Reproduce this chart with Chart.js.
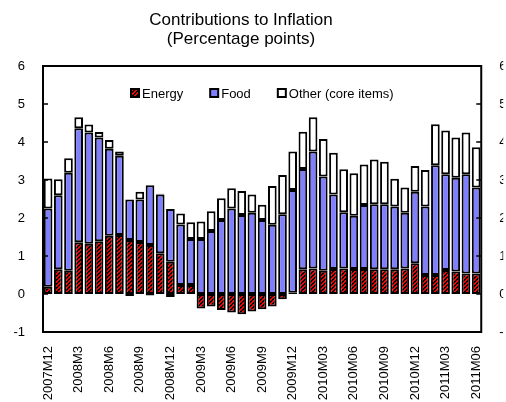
<!DOCTYPE html>
<html>
<head>
<meta charset="utf-8">
<script src="https://cdn.jsdelivr.net/npm/chart.js@4/dist/chart.umd.min.js"></script>
<style>
  html, body { margin: 0; padding: 0; background: #fff; }
  #wrap { width: 506px; height: 402px; }
</style>
</head>
<body>
<div id="wrap"><canvas id="myChart" width="506" height="402"></canvas></div>
<script>
/*
* Data
*/

var months = [
  "2007M12",
  "2008M1", "2008M2", "2008M3", "2008M4", "2008M5", "2008M6",
  "2008M7", "2008M8", "2008M9", "2008M10", "2008M11", "2008M12",
  "2009M1", "2009M2", "2009M3", "2009M4", "2009M5", "2009M6",
  "2009M7", "2009M8", "2009M9", "2009M10", "2009M11", "2009M12",
  "2010M01", "2010M02", "2010M03", "2010M04", "2010M05", "2010M06",
  "2010M07", "2010M08", "2010M09", "2010M10", "2010M11", "2010M12",
  "2011M01", "2011M02", "2011M03", "2011M04", "2011M05", "2011M06"
];

var energy = [0.19, 0.65, 0.61, 1.36, 1.32, 1.39, 1.53, 1.55, 1.42, 1.37, 1.29, 1.07, 0.85,
  0.24, 0.24, -0.38, -0.33, -0.42, -0.49, -0.53, -0.46, -0.40, -0.33, -0.14, 0.03,
  0.65, 0.67, 0.61, 0.66, 0.67, 0.66, 0.66, 0.65, 0.65, 0.65, 0.67, 0.81,
  0.50, 0.50, 0.63, 0.59, 0.54, 0.54];

var food = [2.06, 1.95, 2.58, 3.00, 2.93, 2.73, 2.29, 2.09, 1.07, 1.12, 1.57, 1.55, 1.39,
  1.59, 1.21, 1.45, 1.66, 1.95, 2.25, 2.08, 2.14, 1.95, 1.82, 2.10, 2.71,
  2.64, 3.08, 2.48, 1.96, 1.48, 1.40, 1.68, 1.71, 1.71, 1.65, 1.47, 1.88,
  1.80, 2.89, 2.52, 2.47, 2.61, 2.26];

var other = [0.79, 0.42, 0.38, 0.29, 0.21, 0.14, 0.23, 0.11, -0.05, 0.20, -0.04, 0.02, -0.08,
  0.29, 0.44, 0.46, 0.52, 0.57, 0.53, 0.63, 0.48, 0.40, 1.02, 1.03, 1.01,
  0.98, 0.90, 0.99, 1.10, 1.13, 1.12, 1.07, 1.18, 1.12, 0.73, 0.66, 0.68,
  0.96, 1.08, 1.15, 1.06, 1.10, 1.06];

var titleLines = ["Contributions to Inflation", "(Percentage points)"];
var yMin = -1, yMax = 6;

/*
* Energy hatch pattern
*/

function makeHatch() {
  var c = document.createElement('canvas');
  c.width = 4; c.height = 4;
  var g = c.getContext('2d');
  g.fillStyle = '#ff0000';
  g.fillRect(0, 0, 4, 4);
  g.fillStyle = '#000000';
  for (var i = 0; i < 4; i++) {
    g.fillRect(i, 3 - i, 1, 1);
    g.fillRect((i + 1) % 4, 3 - i, 1, 1);
  }
  return g.createPattern(c, 'repeat');
}

var FONT = "'Liberation Sans', Arial, sans-serif";
Chart.defaults.font.family = FONT;
Chart.defaults.color = '#000';

// frame, inward ticks, title and legend
var decor = {
  id: 'decor',
  afterDraw: function(chart) {
    var ctx = chart.ctx;
    var a = chart.chartArea;
    var y = chart.scales.y;
    ctx.save();
    ctx.strokeStyle = '#000';
    ctx.lineWidth = 2;
    ctx.strokeRect(a.left, a.top, a.right - a.left, a.bottom - a.top);
    ctx.lineWidth = 1.5;
    for (var v = yMin; v <= yMax; v++) {
      var py = y.getPixelForValue(v);
      ctx.beginPath();
      ctx.moveTo(a.left, py); ctx.lineTo(a.left + 5, py);
      ctx.moveTo(a.right, py); ctx.lineTo(a.right - 5, py);
      ctx.stroke();
    }
    ctx.fillStyle = '#000';
    ctx.font = '17px ' + FONT;
    ctx.textAlign = 'center';
    ctx.textBaseline = 'middle';
    ctx.fillText(titleLines[0], 241, 20);
    ctx.fillText(titleLines[1], 241, 39);

    // legend
    ctx.font = '13px ' + FONT;
    ctx.textAlign = 'left';
    var lx = a.left + 88, ly = a.top + 27;
    chart.data.datasets.forEach(function(ds) {
      ctx.fillStyle = ds.backgroundColor;
      ctx.fillRect(lx, ly - 4, 8, 8);
      ctx.lineWidth = 2;
      ctx.strokeRect(lx, ly - 4, 8, 8);
      ctx.fillStyle = '#000';
      ctx.fillText(ds.label, lx + 11, ly + 1);
      lx += 11 + ctx.measureText(ds.label).width + 27;
    });
    ctx.restore();
  }
};

var ctx = document.getElementById('myChart').getContext('2d');
var hatch = makeHatch();

var chart = new Chart(ctx, {
  type: 'bar',
  data: {
    labels: months,
    datasets: [
      { label: 'Energy', data: energy, backgroundColor: hatch },
      { label: 'Food', data: food, backgroundColor: '#8080ff' },
      { label: 'Other (core items)', data: other, backgroundColor: '#ffffff' }
    ]
  },
  options: {
    responsive: false,
    animation: false,
    layout: { padding: { top: 66, left: 0, right: 0, bottom: 0 } },
    datasets: {
      bar: {
        borderColor: '#000',
        borderWidth: 2,
        borderSkipped: false,
        barPercentage: 0.85,
        categoryPercentage: 1.0
      }
    },
    plugins: {
      title: { display: false },
      tooltip: { enabled: false },
      legend: { display: false }
    },
    scales: {
      x: {
        stacked: true,
        grid: { display: false, drawTicks: false },
        border: { display: false },
        ticks: {
          autoSkip: false,
          minRotation: 90,
          maxRotation: 90,
          padding: 14,
          font: { size: 13 },
          callback: function(val, i) { return i % 3 === 0 ? months[i] : ''; }
        },
        afterFit: function(s) { s.height = 70; }
      },
      y: {
        stacked: true,
        min: yMin,
        max: yMax,
        grid: { display: false, drawTicks: false },
        border: { display: false },
        ticks: { stepSize: 1, padding: 18, font: { size: 13 } },
        afterFit: function(s) { s.width = 43; }
      },
      y2: {
        position: 'right',
        min: yMin,
        max: yMax,
        grid: { display: false, drawTicks: false },
        border: { display: false },
        ticks: { stepSize: 1, padding: 18, font: { size: 13 } },
        afterFit: function(s) { s.width = 22; }
      }
    }
  },
  plugins: [decor]
});
</script>
</body>
</html>
